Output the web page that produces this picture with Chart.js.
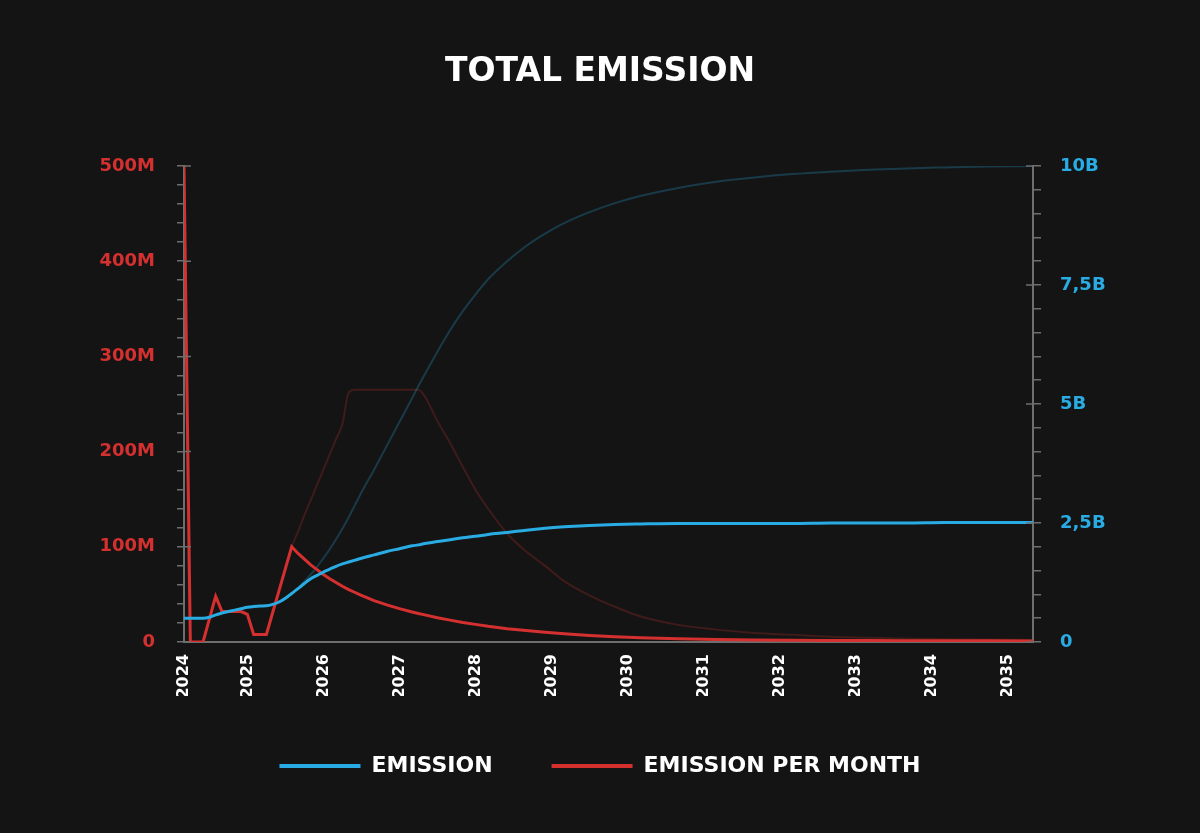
<!DOCTYPE html>
<html>
<head>
<meta charset="utf-8">
<title>Total Emission</title>
<script src="https://cdn.jsdelivr.net/npm/chart.js@4.4.1/dist/chart.umd.min.js"></script>
<style>
  html, body { margin: 0; padding: 0; background: #141414; }
  canvas { display: block; background: #141414; }
</style>
</head>
<body>
<canvas id="myChart" width="1200" height="833"></canvas>
<script>
/* globals Chart */

// month index: 0 = first month of emission (spring 2024)
const months = [0, 1, 2, 3, 4, 5, 6, 7, 8, 9, 10, 11, 12, 13, 14, 15, 16, 17, 18, 19,
  20, 21, 22, 23, 24, 25, 26, 27, 28, 30, 32, 34, 36, 37, 38, 40, 42, 44, 46, 48,
  51, 54, 57, 60, 64, 68, 72, 78, 84, 90, 96, 102, 108, 114, 120, 127, 134];

// total emission, billions (right axis)
const emission = [0.50, 0.50, 0.50, 0.50, 0.52, 0.57, 0.61, 0.64, 0.67, 0.70,
  0.73, 0.745, 0.755, 0.76, 0.79, 0.84, 0.92, 1.02, 1.12, 1.23,
  1.33, 1.40, 1.47, 1.53, 1.59, 1.64, 1.68, 1.72, 1.76, 1.83,
  1.90, 1.96, 2.02, 2.04, 2.07, 2.11, 2.15, 2.19, 2.22, 2.26,
  2.30, 2.35, 2.39, 2.42, 2.45, 2.47, 2.48, 2.49, 2.49, 2.49,
  2.49, 2.50, 2.50, 2.50, 2.51, 2.51, 2.51];

// emission per month, millions (left axis)
const perMonth = [500, 0, 0, 0, 24, 48, 32, 32, 32, 32,
  29, 8, 8, 8, 31, 54, 77, 100, 93, 87,
  81, 76, 71, 66.5, 62.5, 58.5, 55, 52, 49, 43.5,
  39, 35, 31.5, 30, 28.5, 25.5, 23, 20.5, 18.5, 16.5,
  14, 12, 10.2, 8.6, 6.9, 5.5, 4.5, 3.4, 2.7, 2.2,
  1.9, 1.7, 1.5, 1.4, 1.3, 1.2, 1.1];

// faint series: max schedule
const emissionMax = [0.50, 0.50, 0.50, 0.50, 0.52, 0.57, 0.61, 0.64, 0.67, 0.70,
  0.73, 0.745, 0.755, 0.76, 0.79, 0.84, 0.92, 1.02, 1.14, 1.27,
  1.42, 1.58, 1.76, 1.95, 2.16, 2.38, 2.62, 2.88, 3.14, 3.62,
  4.12, 4.62, 5.12, 5.38, 5.62, 6.10, 6.55, 6.95, 7.30, 7.62,
  8.00, 8.32, 8.58, 8.80, 9.03, 9.22, 9.37, 9.54, 9.67, 9.76,
  9.83, 9.88, 9.92, 9.95, 9.97, 9.99, 10.0];

const perMonthMax = [500, 0, 0, 0, 24, 48, 32, 32, 32, 32,
  29, 8, 8, 8, 31, 54, 77, 100, 116, 133,
  149, 165, 181, 197, 213, 229, 262, 265, 265, 265,
  265, 265, 265, 265, 258, 232, 209, 184, 160, 140,
  114, 95, 80, 64, 49, 37, 27, 18, 13, 9.5,
  7.5, 5.5, 4.5, 3.5, 3, 2.5, 2];

const yearTicks = [0, 10, 22, 34, 46, 58, 70, 82, 94, 106, 118, 130];
const yearLabels = ["2024", "2025", "2026", "2027", "2028", "2029",
  "2030", "2031", "2032", "2033", "2034", "2035"];

const leftMajor = [0, 100e6, 200e6, 300e6, 400e6, 500e6];
const leftLabels = ["0", "100M", "200M", "300M", "400M", "500M"];
const rightMajor = [0, 2.5e9, 5e9, 7.5e9, 10e9];
const rightLabels = ["0", "2,5B", "5B", "7,5B", "10B"];

const BLUE = "#29ace4";
const RED = "#d4302f";
const AXIS = "#6e6e6e";
const FONT = "DejaVu Sans";

const pts = (vals, mult) => months.map((m, i) => ({ x: m, y: vals[i] * mult }));

const majorTicks = {
  id: "majorTicks",
  afterDraw(chart) {
    const ctx = chart.ctx;
    const yl = chart.scales.yLeft;
    const yr = chart.scales.yRight;
    ctx.save();
    ctx.strokeStyle = AXIS;
    ctx.lineWidth = 1.5;
    ctx.beginPath();
    leftMajor.forEach((v) => {
      const y = yl.getPixelForValue(v);
      ctx.moveTo(yl.right, y);
      ctx.lineTo(yl.right + 7, y);
    });
    rightMajor.forEach((v) => {
      const y = yr.getPixelForValue(v);
      ctx.moveTo(yr.left, y);
      ctx.lineTo(yr.left - 7, y);
    });
    ctx.stroke();
    ctx.restore();
  },
};

const ctx = document.getElementById("myChart").getContext("2d");

/* exported myChart */
const myChart = new Chart(ctx, {
  type: "line",
  plugins: [majorTicks],
  data: {
    datasets: [
      {
        label: "EMISSION",
        data: pts(emission, 1e9),
        yAxisID: "yRight",
        borderColor: BLUE,
        backgroundColor: BLUE,
        borderWidth: 3,
        cubicInterpolationMode: "monotone",
      },
      {
        label: "EMISSION PER MONTH",
        data: pts(perMonth, 1e6),
        yAxisID: "yLeft",
        borderColor: RED,
        backgroundColor: RED,
        borderWidth: 3,
        tension: 0,
      },
      {
        label: "EMISSION MAX",
        data: pts(emissionMax, 1e9),
        yAxisID: "yRight",
        borderColor: "rgba(41,172,228,0.25)",
        borderWidth: 2,
        cubicInterpolationMode: "monotone",
      },
      {
        label: "EMISSION PER MONTH MAX",
        data: pts(perMonthMax, 1e6),
        yAxisID: "yLeft",
        borderColor: "rgba(212,48,47,0.22)",
        borderWidth: 2,
        cubicInterpolationMode: "monotone",
      },
    ],
  },
  options: {
    responsive: false,
    animation: false,
    events: [],
    elements: { point: { radius: 0 } },
    layout: { padding: { left: 0, right: 0, top: 0, bottom: 46 } },
    scales: {
      x: {
        type: "linear",
        min: 0,
        max: 134,
        afterBuildTicks: (scale) => {
          scale.ticks = yearTicks.map((v) => ({ value: v }));
        },
        afterFit: (scale) => {
          scale.height = 54;
        },
        grid: { display: false, drawTicks: false },
        border: { display: true, color: AXIS, width: 2 },
        ticks: {
          autoSkip: false,
          minRotation: 90,
          maxRotation: 90,
          padding: 12,
          color: "#ffffff",
          font: { family: FONT, weight: "bold", size: 16 },
          callback: (value) => yearLabels[yearTicks.indexOf(value)],
        },
      },
      yLeft: {
        position: "left",
        min: 0,
        max: 500e6,
        afterFit: (scale) => {
          scale.width = 184;
        },
        grid: { drawOnChartArea: false, color: AXIS, tickLength: 7, lineWidth: 1.5 },
        border: { display: true, color: AXIS, width: 2 },
        ticks: {
          stepSize: 20e6,
          autoSkip: false,
          padding: 22,
          color: RED,
          font: { family: FONT, weight: "bold", size: 18 },
          callback: (value) => {
            const i = leftMajor.indexOf(Math.round(value));
            return i >= 0 ? leftLabels[i] : "";
          },
        },
      },
      yRight: {
        position: "right",
        min: 0,
        max: 10e9,
        afterFit: (scale) => {
          scale.width = 167;
        },
        grid: { drawOnChartArea: false, color: AXIS, tickLength: 8, lineWidth: 1.5 },
        border: { display: true, color: AXIS, width: 2 },
        ticks: {
          stepSize: 0.5e9,
          autoSkip: false,
          padding: 19,
          color: BLUE,
          font: { family: FONT, weight: "bold", size: 18 },
          callback: (value) => {
            const i = rightMajor.indexOf(Math.round(value));
            return i >= 0 ? rightLabels[i] : "";
          },
        },
      },
    },
    plugins: {
      title: {
        display: true,
        text: "TOTAL EMISSION",
        color: "#ffffff",
        font: { family: FONT, weight: "bold", size: 33 },
        padding: { top: 53, bottom: 73.4 },
      },
      legend: {
        display: true,
        position: "bottom",
        labels: {
          color: "#ffffff",
          font: { family: FONT, weight: "bold", size: 22 },
          boxWidth: 81,
          boxHeight: 4,
          padding: 59,
          filter: (item) => item.datasetIndex < 2,
          generateLabels: (chart) =>
            Chart.defaults.plugins.legend.labels
              .generateLabels(chart)
              .map((item) => Object.assign(item, { lineWidth: 0 })),
        },
      },
      tooltip: { enabled: false },
    },
  },
});
</script>
</body>
</html>
